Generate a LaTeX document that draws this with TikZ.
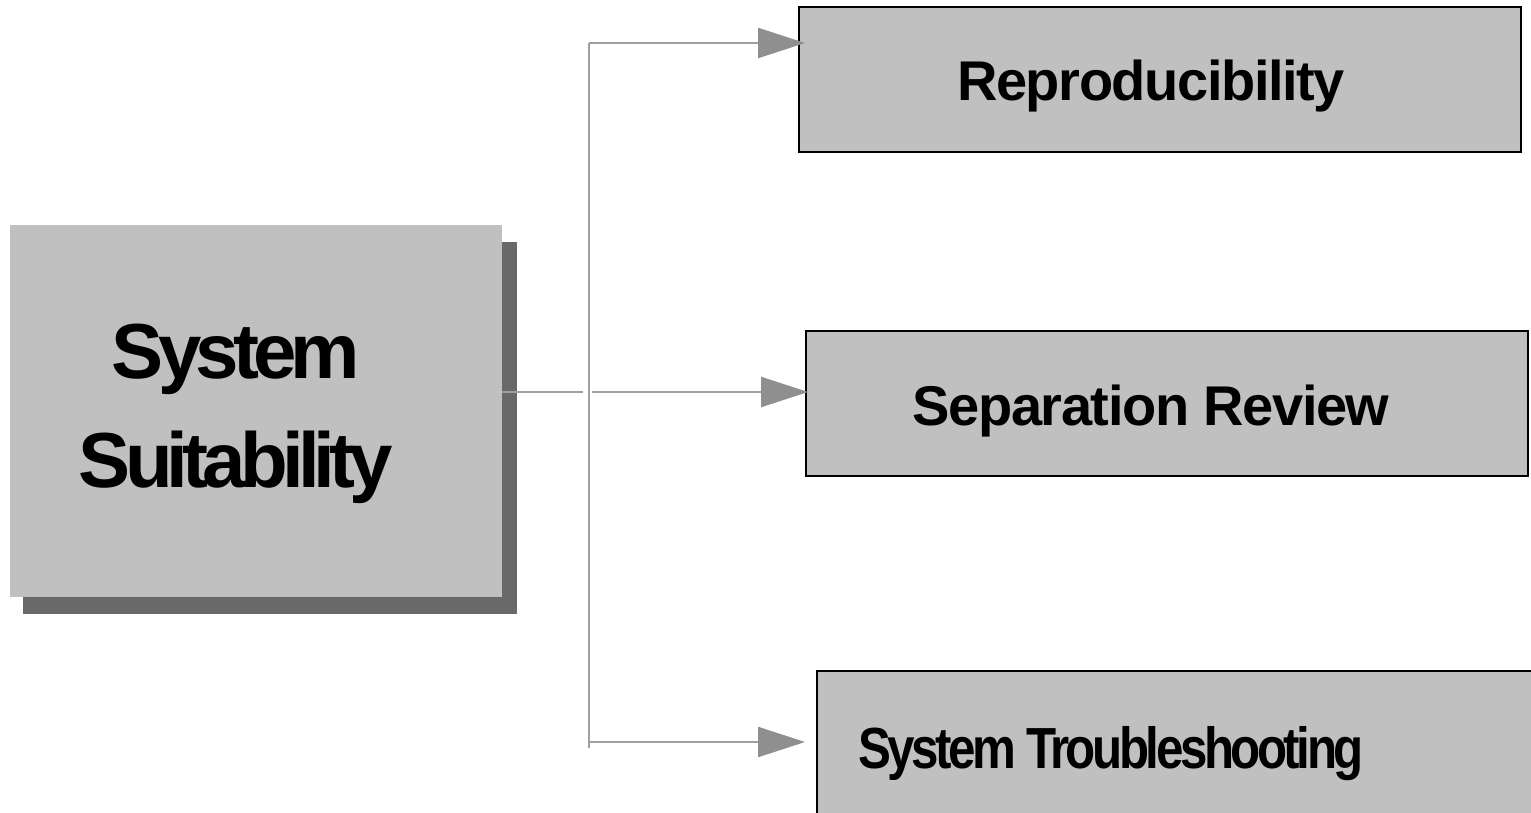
\documentclass[tikz,border=0pt]{standalone}
\usepackage{fontspec}
\setmainfont{Liberation Sans}
\usetikzlibrary{arrows.meta}
\definecolor{boxfill}{HTML}{C0C0C0}
\definecolor{shadowgray}{HTML}{696969}
\definecolor{linegray}{HTML}{A0A0A0}
\definecolor{tipgray}{HTML}{8F8F8F}
\newfontfamily\narrowbold[FakeStretch=0.85,LetterSpace=-6]{Liberation Sans Bold}
\begin{document}
\begin{tikzpicture}[x=1bp,y=-1bp,
  outbox/.style={draw=black,line width=2bp,fill=boxfill,
    minimum width=722bp,minimum height=145bp,inner sep=0pt,outer sep=0pt},
  mainbox/.style={fill=boxfill,minimum width=492bp,minimum height=372bp,
    inner sep=0pt,outer sep=0pt},
  shadowbox/.style={fill=shadowgray,minimum width=494bp,minimum height=372bp,
    inner sep=0pt,outer sep=0pt},
  boxtext/.style={anchor=base,inner sep=0pt,
    font={\fontsize{56bp}{60bp}\selectfont\bfseries\addfontfeatures{LetterSpace=-2.5}}},
  tighttext/.style={anchor=base,inner sep=0pt,
    font={\fontsize{58bp}{62bp}\selectfont\narrowbold}},
  titletext/.style={anchor=base,inner sep=0pt,
    font={\fontsize{78bp}{90bp}\selectfont\bfseries\addfontfeatures{LetterSpace=-7.5}}},
  conn/.style={draw=linegray,line width=2.5bp},
  arrowconn/.style={conn,-{Triangle[length=47bp,width=30bp,fill=tipgray,color=tipgray]}}
]
\useasboundingbox (0,0) rectangle (1531,812);
\clip (0,0) rectangle (1531,812);

% central box with its drop shadow
\node[shadowbox] (shadow) at (270,428) {};
\node[mainbox] (ss) at (256,411) {};
\node[titletext] (ss-line1) at (236,378) {System};
\node[titletext] (ss-line2) at (236,487) {Suitability};

% the three outcome boxes
\node[outbox] (repro) at (1160,79.5) {};
\node[outbox] (sep) at (1167,403.5) {};
\node[outbox] (trouble) at (1178,743.5) {};
\node[boxtext] (repro-text) at (1151,100) {Reproducibility};
\node[boxtext] (sep-text) at (1151,425) {Separation Review};
\node[tighttext] (trouble-text) at (1111,768) {System Troubleshooting};

% branching connector
\coordinate (trunk-top) at (589,43);
\coordinate (trunk-bot) at (589,748);
\coordinate (mid-start) at (ss.east |- 0,392);
\coordinate (gap-left) at (583,392);
\coordinate (gap-right) at (592,392);
\coordinate (bot-start) at (589,742);
\coordinate (repro-in) at (805,43);
\coordinate (sep-in) at (808,392);
\coordinate (trouble-in) at (805,742);

\draw[conn] (trunk-top) -- (trunk-bot);
\draw[conn] (mid-start) -- (gap-left);
\draw[arrowconn] (trunk-top) -- (repro-in);
\draw[arrowconn] (gap-right) -- (sep-in);
\draw[arrowconn] (bot-start) -- (trouble-in);
\end{tikzpicture}
\end{document}
